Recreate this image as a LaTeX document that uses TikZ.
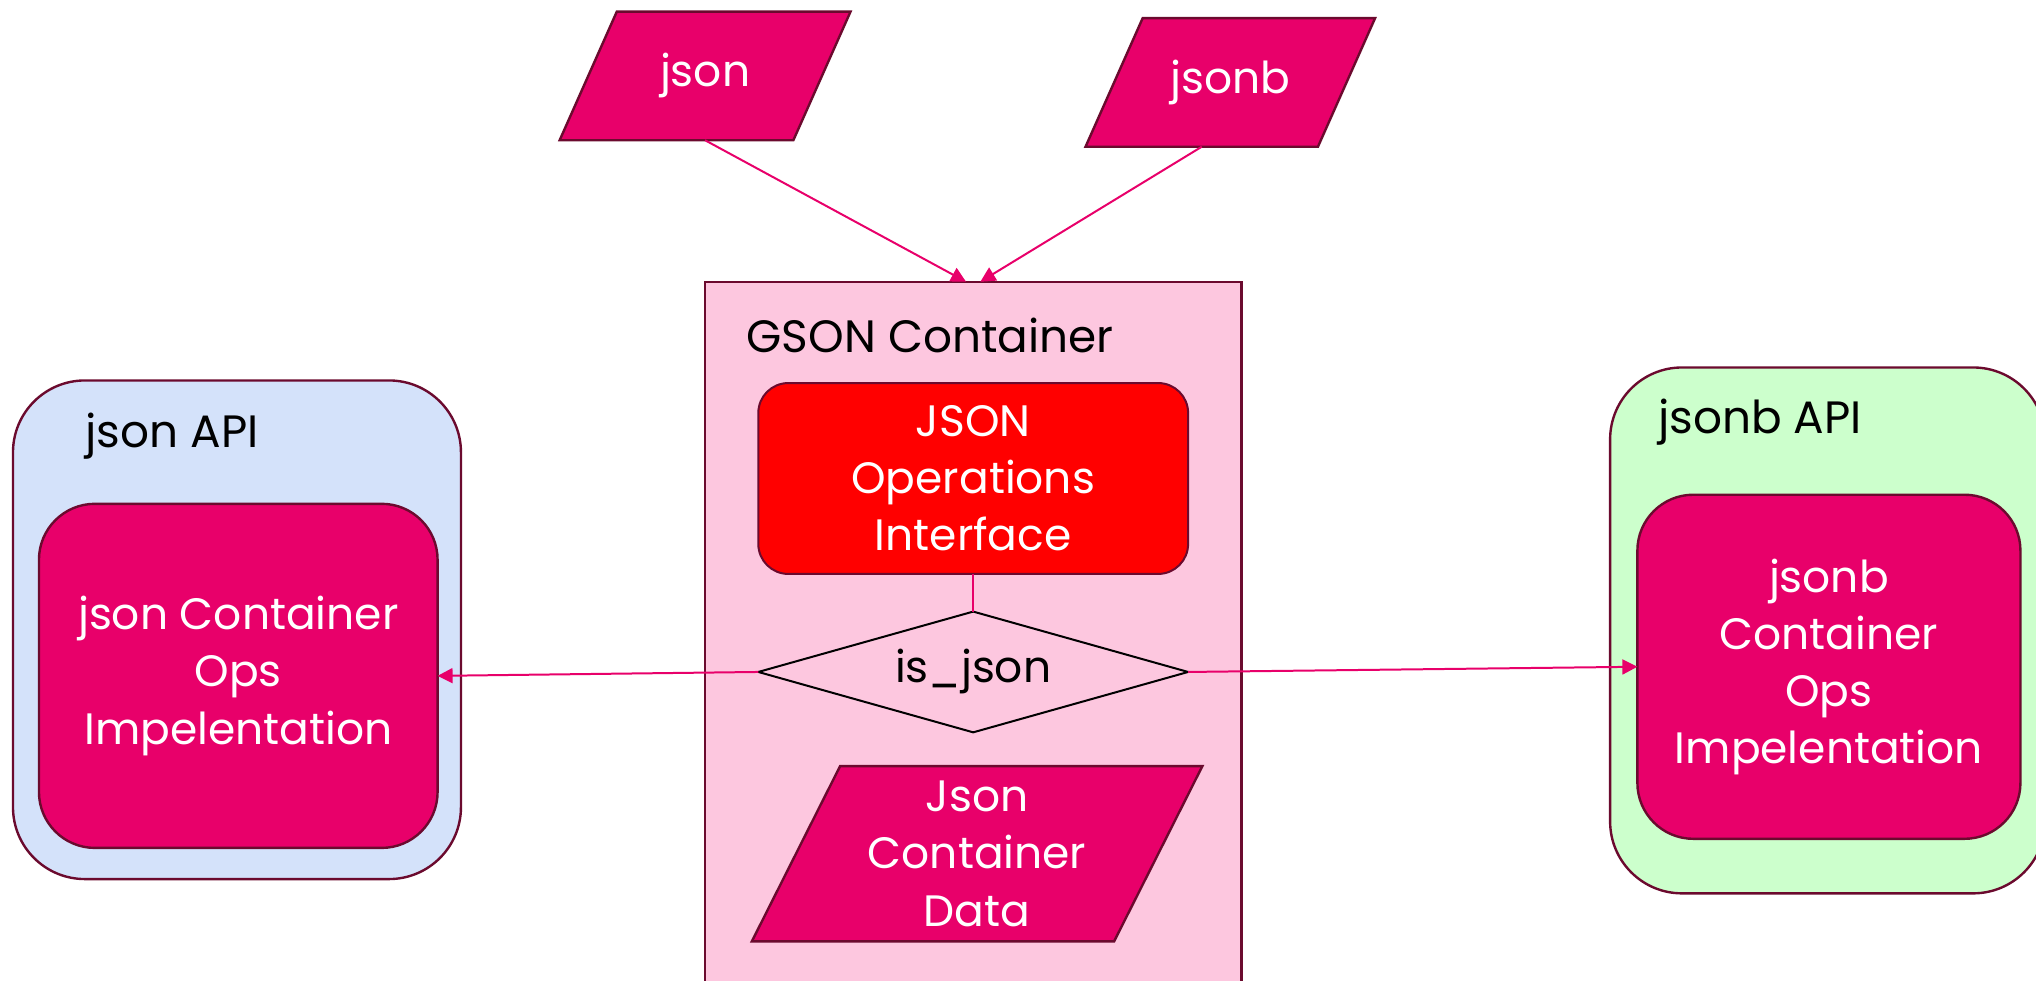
\documentclass[tikz,border=0pt]{standalone}
\usepackage{fontspec}
\setmainfont{Poppins}
\usetikzlibrary{arrows.meta,calc}

\definecolor{magentabox}{HTML}{E8006A}
\definecolor{edgedark}{HTML}{6B0A2E}
\definecolor{gsonfill}{HTML}{FDC7DF}
\definecolor{jsonapifill}{HTML}{D4E2FA}
\definecolor{jsonbapifill}{HTML}{CCFFCC}
\definecolor{opsred}{HTML}{FF0000}

\tikzset{
  base/.style={inner sep=0pt, outer sep=0pt, align=center,
    font=\fontsize{22}{28.6}\selectfont},
  % invisible frame that carries the anchors of a drawn outline
  frame/.style={base, rectangle, draw=none},
  paraoutline/.style={fill=magentabox, draw=edgedark, line width=1.2pt, line join=miter},
  diamondoutline/.style={fill=gsonfill, draw=black, line width=1pt},
  whitetext/.style={base, text=white},
  container/.style={base, rectangle, fill=gsonfill, draw=edgedark, line width=1.2pt},
  apibox/.style={base, rectangle, rounded corners=36pt, draw=edgedark, line width=1.2pt},
  implbox/.style={base, rectangle, rounded corners=28pt, fill=magentabox,
    draw=edgedark, line width=1.2pt, text=white},
  opsbox/.style={base, rectangle, rounded corners=15pt, fill=opsred,
    draw=edgedark, line width=1pt, text=white},
  title/.style={base, anchor=west, text=black, font=\fontsize{22.7}{27}\selectfont},
  link/.style={draw=magentabox, line width=1pt},
  arrowlink/.style={link, -{Triangle[length=7.5pt,width=7.5pt]}},
}

\begin{document}
\begin{tikzpicture}[x=0.65pt, y=-0.65pt]
  \useasboundingbox (0,0) rectangle (1568,755);

  % outer containers
  \node[container, minimum width=413*0.65pt, minimum height=600*0.65pt]
    (gson) at (749.5,517) {};
  \node[apibox, fill=jsonapifill, minimum width=345*0.65pt, minimum height=384*0.65pt]
    (japi) at (182.5,485) {};
  \node[apibox, fill=jsonbapifill, minimum width=335*0.65pt, minimum height=405*0.65pt]
    (bapi) at (1407.5,485.5) {};

  % container titles
  \node[title] (gsontitle) at (575,258) {GSON Container};
  \node[title] (japititle) at (66,336) {json API};
  \node[title] (bapititle) at (1277,325) {jsonb API};

  % implementation blocks
  \node[implbox, minimum width=307*0.65pt, minimum height=265*0.65pt]
    (jimpl) at (183.5,520.5) {json Container\\Ops\\Impelentation};
  \node[implbox, minimum width=295*0.65pt, minimum height=265*0.65pt]
    (bimpl) at (1408.5,513.5) {jsonb\\Container\\Ops\\Impelentation};

  % input parallelograms
  \node[frame, minimum width=224*0.65pt, minimum height=99*0.65pt] (json) at (543,58.5) {};
  \filldraw[paraoutline] (json.south west) -- ($(json.north west)+(44,0)$)
    -- (json.north east) -- ($(json.south east)+(-44,0)$) -- cycle;
  \node[whitetext] (jsonlabel) at (json.center) {json};

  \node[frame, minimum width=223*0.65pt, minimum height=99*0.65pt] (jsonb) at (947.5,63.5) {};
  \filldraw[paraoutline] (jsonb.south west) -- ($(jsonb.north west)+(44,0)$)
    -- (jsonb.north east) -- ($(jsonb.south east)+(-44,0)$) -- cycle;
  \node[whitetext] (jsonblabel) at (jsonb.center) {jsonb};

  % GSON internals
  \node[opsbox, minimum width=331*0.65pt, minimum height=147*0.65pt]
    (ops) at (749.5,368.5) {JSON\\Operations\\Interface};

  \node[frame, minimum width=331*0.65pt, minimum height=93*0.65pt] (isjson) at (749.5,517.5) {};
  \filldraw[diamondoutline] (isjson.west) -- (isjson.north) -- (isjson.east)
    -- (isjson.south) -- cycle;
  \node[base] (isjsonlabel) at (isjson.center) {is\_json};

  \node[frame, minimum width=347*0.65pt, minimum height=135*0.65pt] (data) at (752.5,657.5) {};
  \filldraw[paraoutline] (data.south west) -- ($(data.north west)+(68,0)$)
    -- (data.north east) -- ($(data.south east)+(-68,0)$) -- cycle;
  \node[whitetext] (datalabel) at (data.center) {Json\\Container\\Data};

  % connectors
  \draw[arrowlink] (json.south) -- ($(gson.north)+(-5.5,0)$);
  \draw[arrowlink] ($(jsonb.south)+(-22,0)$) -- ($(gson.north)+(5.5,0)$);
  \draw[link] (ops.south) -- (isjson.north);
  \draw[arrowlink] (isjson.west) -- (jimpl.east);
  \draw[arrowlink] (isjson.east) -- (bimpl.west);
\end{tikzpicture}
\end{document}
